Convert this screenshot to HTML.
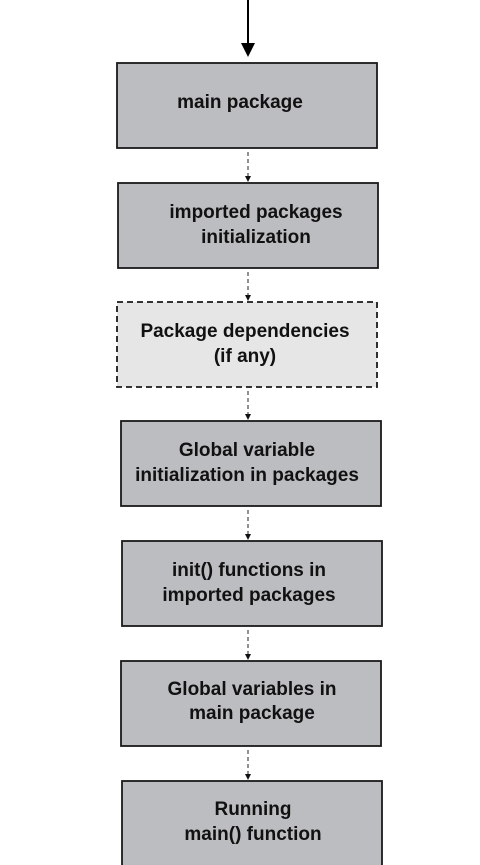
<!DOCTYPE html>
<html><head><style>
body{margin:0;width:480px;height:865px;background:#fff;overflow:hidden}
svg{display:block}
text{font-family:"Liberation Sans",sans-serif;font-weight:bold;font-size:19px;fill:#111;text-anchor:middle}
</style></head><body>
<svg width="480" height="865" viewBox="0 0 480 865">
<line x1="248" y1="0" x2="248" y2="46" stroke="#000" stroke-width="2"/>
<polygon points="241,43 255,43 248,57" fill="#000"/>
<g fill="#bcbdc0" stroke="#1a1a1a" stroke-width="1.8">
<rect x="117" y="63" width="260" height="85"/>
<rect x="118" y="183" width="260" height="85"/>
<rect x="121" y="421" width="260" height="85"/>
<rect x="122" y="541" width="260" height="85"/>
<rect x="121" y="661" width="260" height="85"/>
<rect x="122" y="781" width="260" height="85"/>
</g>
<rect x="117" y="302" width="260" height="85" fill="#e6e6e7" stroke="#1a1a1a" stroke-width="1.8" stroke-dasharray="6,4"/>
<g stroke="#222" stroke-width="1" stroke-dasharray="4,3">
<line x1="248" y1="152" x2="248" y2="176"/>
<line x1="248" y1="272" x2="248" y2="295"/>
<line x1="248" y1="391" x2="248" y2="414"/>
<line x1="248" y1="510" x2="248" y2="534"/>
<line x1="248" y1="630" x2="248" y2="654"/>
<line x1="248" y1="750" x2="248" y2="774"/>
</g>
<g fill="#111">
<polygon points="245,176 251,176 248,182"/>
<polygon points="245,295 251,295 248,301"/>
<polygon points="245,414 251,414 248,420"/>
<polygon points="245,534 251,534 248,540"/>
<polygon points="245,654 251,654 248,660"/>
<polygon points="245,774 251,774 248,780"/>
</g>
<text x="240" y="108">main package</text>
<text x="256" y="218">imported packages</text>
<text x="256" y="243">initialization</text>
<text x="245" y="337">Package dependencies</text>
<text x="245" y="362">(if any)</text>
<text x="247" y="456">Global variable</text>
<text x="247" y="481">initialization in packages</text>
<text x="249" y="576">init() functions in</text>
<text x="249" y="601">imported packages</text>
<text x="252" y="695">Global variables in</text>
<text x="252" y="719">main package</text>
<text x="253" y="815">Running</text>
<text x="253" y="840">main() function</text>
</svg>
</body></html>
